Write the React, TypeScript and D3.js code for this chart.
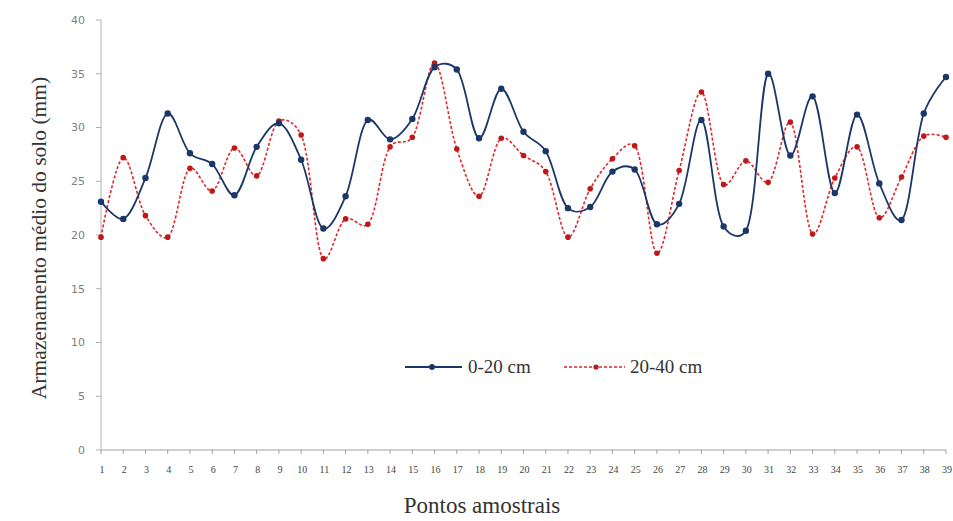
import React from "react";
import * as d3 from "d3";

// pontos amostrais 1..39
const points = d3.range(1, 40);

// 0-20 cm
const serie0a20 = [
  23.1, 21.5, 25.3, 31.3, 27.6, 26.6, 23.7, 28.2, 30.4, 27.0,
  20.6, 23.6, 30.7, 28.9, 30.8, 35.6, 35.4, 29.0, 33.6, 29.6,
  27.8, 22.5, 22.6, 25.9, 26.1, 21.0, 22.9, 30.7, 20.8, 20.4,
  35.0, 27.4, 32.9, 23.9, 31.2, 24.8, 21.4, 31.3, 34.7,
];

// 20-40 cm
const serie20a40 = [
  19.8, 27.2, 21.8, 19.8, 26.2, 24.1, 28.1, 25.5, 30.6, 29.3,
  17.8, 21.5, 21.0, 28.2, 29.1, 36.0, 28.0, 23.6, 29.0, 27.4,
  25.9, 19.8, 24.3, 27.1, 28.3, 18.3, 26.0, 33.3, 24.7, 26.9,
  24.9, 30.5, 20.1, 25.3, 28.2, 21.6, 25.4, 29.2, 29.1,
];

const yTicks = [0, 5, 10, 15, 20, 25, 30, 35, 40];

const W = 953;
const H = 521;
const margin = { left: 101, right: 7, top: 20, bottom: 71 };

const BLUE = "#1b3768";
const RED = "#e0262a";

export default function App() {
  const x = d3.scaleLinear().domain([1, 39]).range([margin.left, W - margin.right]);
  const y = d3.scaleLinear().domain([0, 40]).range([H - margin.bottom, margin.top]);

  // smoothed lines, like the spreadsheet's "smooth line" option
  const line = d3
    .line<number>()
    .x((_, i) => x(points[i]))
    .y((d) => y(d))
    .curve(d3.curveCatmullRom.alpha(0.3));

  const y0 = y(0);

  return (
    <svg
      width={W}
      height={H}
      style={{ position: "absolute", left: 0, top: 0, background: "#fff" }}
    >
      {/* y axis */}
      <line x1={margin.left} x2={margin.left} y1={y(40)} y2={y0} stroke="#b0b0b0" />
      {yTicks.map((t) => (
        <g key={t}>
          <line x1={margin.left - 5} x2={margin.left} y1={y(t)} y2={y(t)} stroke="#b0b0b0" />
          <text
            x={margin.left - 16}
            y={y(t)}
            dy="0.35em"
            textAnchor="end"
            fontFamily="DejaVu Sans, Verdana, sans-serif"
            fontSize={11}
            fill="#808080"
          >
            {t}
          </text>
        </g>
      ))}

      {/* x axis */}
      <line x1={margin.left} x2={x(39)} y1={y0} y2={y0} stroke="#a0a0a0" />
      {points.map((p) => (
        <g key={p}>
          <line x1={x(p)} x2={x(p)} y1={y0} y2={y0 + 4} stroke="#a0a0a0" />
          <text
            x={x(p) + 1}
            y={y0 + 23}
            textAnchor="middle"
            fontFamily="Liberation Serif, serif"
            fontSize={10}
            fill="#444"
          >
            {p}
          </text>
        </g>
      ))}

      {/* series */}
      <path d={line(serie20a40) || ""} fill="none" stroke={RED} strokeWidth={1.6} strokeDasharray="3,2" />
      {serie20a40.map((v, i) => (
        <circle key={"r" + i} cx={x(points[i])} cy={y(v)} r={2.8} fill="#c01818" />
      ))}
      <path d={line(serie0a20) || ""} fill="none" stroke={BLUE} strokeWidth={1.8} />
      {serie0a20.map((v, i) => (
        <circle key={"b" + i} cx={x(points[i])} cy={y(v)} r={3.2} fill={BLUE} />
      ))}

      {/* legend */}
      <g fontFamily="Liberation Serif, serif" fontSize={19} fill="#333">
        <line x1={405} x2={462} y1={367} y2={367} stroke={BLUE} strokeWidth={1.8} />
        <circle cx={432} cy={367} r={3} fill={BLUE} />
        <text x={468} y={373}>0-20 cm</text>
        <line x1={564} x2={625} y1={367} y2={367} stroke={RED} strokeWidth={1.6} strokeDasharray="3,2" />
        <circle cx={596} cy={367} r={2.6} fill="#c01818" />
        <text x={630} y={373}>20-40 cm</text>
      </g>

      {/* axis titles */}
      <text
        transform={`translate(38, 238) rotate(-90)`}
        textAnchor="middle"
        dy="0.35em"
        fontFamily="Liberation Serif, serif"
        fontSize={21.5}
        fill="#333"
      >
        Armazenamento médio do solo (mm)
      </text>
      <text
        x={482}
        y={513}
        textAnchor="middle"
        fontFamily="Liberation Serif, serif"
        fontSize={23}
        fill="#333"
      >
        Pontos amostrais
      </text>
    </svg>
  );
}
